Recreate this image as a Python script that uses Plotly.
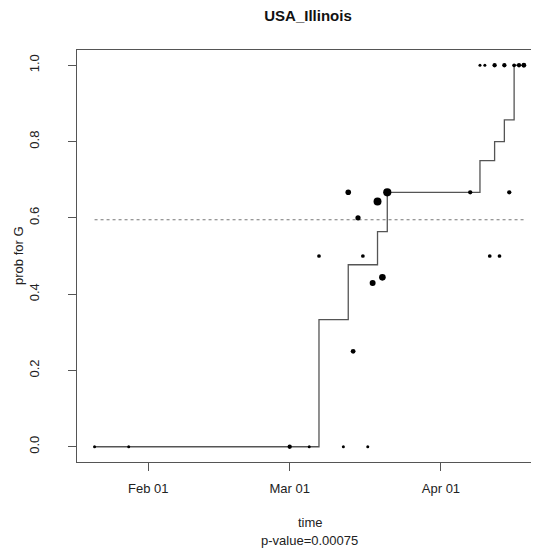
import numpy as np
import pandas as pd
import plotly.graph_objects as go

# ---- data ----
obs_dates = ["2020-01-21", "2020-01-28", "2020-03-01", "2020-03-05", "2020-03-07",
             "2020-03-12", "2020-03-13", "2020-03-14", "2020-03-15", "2020-03-16",
             "2020-03-17", "2020-03-18", "2020-03-19", "2020-03-20", "2020-03-21",
             "2020-04-07", "2020-04-09", "2020-04-10", "2020-04-11", "2020-04-12",
             "2020-04-13", "2020-04-14", "2020-04-15", "2020-04-16", "2020-04-17",
             "2020-04-18"]
obs_prob = [0, 0, 0, 0, 0.5,
            0, 0.667, 0.25, 0.6, 0.5,
            0, 0.429, 0.643, 0.444, 0.667,
            0.667, 1, 1, 0.5, 1,
            0.5, 1, 0.667, 1, 1,
            1]
obs_count = [1, 1, 3, 1, 2,
             1, 6, 4, 5, 2,
             1, 7, 14, 9, 15,
             3, 1, 1, 2, 3,
             2, 3, 3, 2, 3,
             4]

step_dates = ["2020-01-21", "2020-03-07", "2020-03-13", "2020-03-19", "2020-03-21",
              "2020-04-09", "2020-04-12", "2020-04-14", "2020-04-16", "2020-04-18"]
step_prob = [0, 0.333, 0.477, 0.564, 0.667, 0.75, 0.8, 0.857, 1.0, 1.0]

overall_prob = 0.595
ref_span = ["2020-01-21", "2020-04-18"]

x_ticks = ["2020-02-01", "2020-03-01", "2020-04-01"]
y_ticks = [0.0, 0.2, 0.4, 0.6, 0.8, 1.0]

title_text = "USA_Illinois"
x_title = "time"
sub_title = "p-value=0.00075"
y_title = "prob for G"

# ---- figure ----
# the page body has an 8px margin, so the figure is laid out 8px smaller
OFF = 8
W, H = 539 - OFF, 553 - OFF
ML, MR, MT, MB = 77 - OFF, 0, 50 - OFF, 91
PW, PH = W - ML - MR, H - MT - MB

FONT = "Liberation Sans, Arial, Helvetica, sans-serif"
sizes = [1.2 + 1.8 * np.sqrt(n) for n in obs_count]

fig = go.Figure()
fig.add_trace(go.Scatter(
    x=ref_span, y=[overall_prob, overall_prob], mode="lines",
    line=dict(color="#777777", width=1.2, dash="dot"), hoverinfo="skip"))
fig.add_trace(go.Scatter(
    x=step_dates, y=step_prob, mode="lines", line_shape="hv",
    line=dict(color="#555555", width=1.3)))
fig.add_trace(go.Scatter(
    x=obs_dates, y=obs_prob, mode="markers",
    marker=dict(color="black", size=sizes, opacity=1, line=dict(width=0))))

mar1 = pd.Timestamp("2020-03-01")
x_lo = mar1 + pd.Timedelta(days=-43.6)
x_hi = mar1 + pd.Timedelta(days=51.1)

axis_common = dict(showgrid=False, zeroline=False, showline=True,
                   linecolor="#555555", linewidth=1.2, ticks="outside",
                   ticklen=8, tickwidth=1.1, tickcolor="#555555",
                   tickfont=dict(family=FONT, size=13, color="#222222"))

fig.update_xaxes(type="date", range=[x_lo, x_hi], tickvals=x_ticks,
                 tickformat="%b %d", mirror=True, ticklabelstandoff=6,
                 **axis_common)
fig.update_yaxes(range=[-0.04, 1.04], tickvals=y_ticks, tickformat=".1f",
                 tickangle=-90, mirror=False, ticklabelstandoff=24,
                 **axis_common)


def px_x(px):
    return (px - OFF - ML) / PW


def px_y(py):
    return (H - MB - (py - OFF)) / PH


annotations = [
    dict(text=x_title, x=px_x(310), y=px_y(522), xref="paper", yref="paper",
         showarrow=False, xanchor="center", yanchor="middle",
         font=dict(family=FONT, size=13, color="#222222")),
    dict(text=sub_title, x=px_x(309), y=px_y(540), xref="paper", yref="paper",
         showarrow=False, xanchor="center", yanchor="middle",
         font=dict(family=FONT, size=13, color="#222222")),
    dict(text=y_title, x=px_x(18), y=px_y(256), xref="paper", yref="paper",
         showarrow=False, xanchor="center", yanchor="middle", textangle=-90,
         font=dict(family=FONT, size=13, color="#222222")),
]

fig.update_layout(
    width=W, height=H,
    margin=dict(l=ML, r=MR, t=MT, b=MB),
    paper_bgcolor="white", plot_bgcolor="white",
    showlegend=False,
    title=dict(text="<b>" + title_text + "</b>", x=(308 - OFF) / W,
               xref="container", xanchor="center",
               y=1 - (15.5 - OFF) / H, yanchor="middle",
               font=dict(family=FONT, size=15, color="#111111")),
    annotations=annotations,
)

fig.write_html("out.html")
